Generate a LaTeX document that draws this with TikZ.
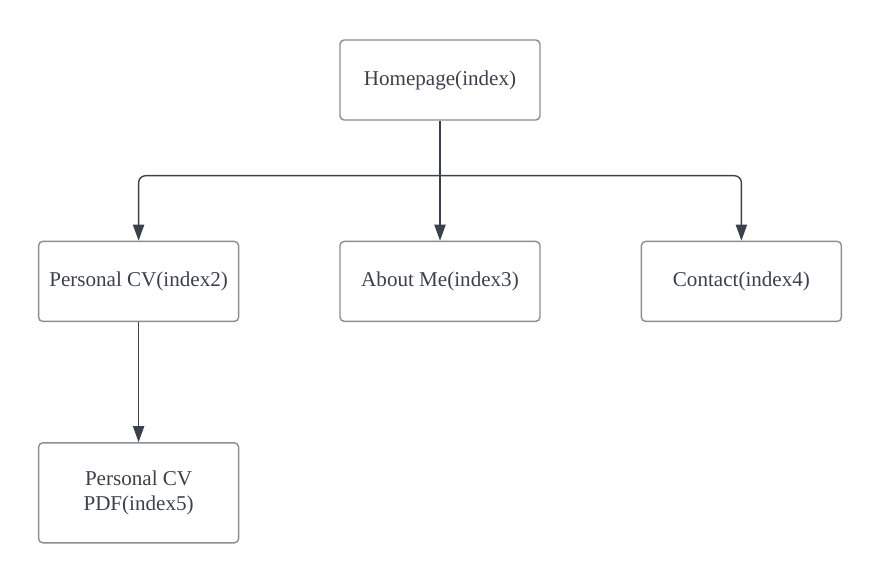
\documentclass[tikz,border=0pt]{standalone}
\usepackage{fontspec}
\setmainfont{Liberation Serif}
\usepackage{tikz}
\usetikzlibrary{positioning,arrows.meta}

\definecolor{inkgray}{HTML}{3B414B}
\definecolor{boxgray}{HTML}{8A8E94}

\begin{document}
\begin{tikzpicture}[
  node distance=3cm and 2.5cm,
  page/.style={draw=boxgray, line width=1pt, rounded corners=3pt, minimum height=2cm, minimum width=5cm, font=\fontsize{15}{18}\selectfont, text=inkgray, align=center},
  arrow/.style={-{Triangle[length=0.4cm, width=0.28cm]}, draw=inkgray, line width=1pt, rounded corners=5pt}
]
  \useasboundingbox (0,0) rectangle (22,-14.5);
  \node[page] (home) at (11,-2) {Homepage(index)};
  \node[page, below=of home] (about) {About Me(index3)};
  \node[page, left=of about] (cv) {Personal CV(index2)};
  \node[page, right=of about] (contact) {Contact(index4)};
  \node[page, below=of cv, minimum height=2.5cm] (pdf) {Personal CV\\PDF(index5)};
  \coordinate[below=1.375cm of home] (bus);
  \draw[arrow] (home) -- (about);
  \draw[arrow] (bus) -| (cv);
  \draw[arrow] (bus) -| (contact);
  \draw[arrow] (cv) -- (pdf);
\end{tikzpicture}
\end{document}
